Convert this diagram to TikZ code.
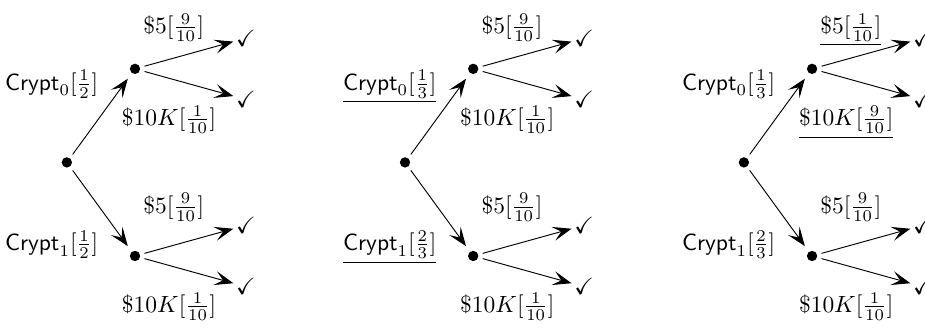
\documentclass[tikz,border=0pt]{standalone}
\usepackage{amsmath,amssymb}
\usepackage{tikz}
\usetikzlibrary{arrows.meta}

\tikzset{
  dot/.style={circle, fill, inner sep=0pt, minimum size=4.4pt, outer sep=2pt},
  leaf/.style={inner sep=1pt},
  lbl/.style={inner sep=1pt},
  branch/.style={-{Stealth[length=8pt, width=6pt, inset=3.5pt]}},
}

\begin{document}
\begin{tikzpicture}
  \useasboundingbox (-1.0,-2.5) rectangle (12.84,2.43);

  %% one tree per panel: offset / crypt labels / payoff labels (upper node)
  \foreach \i/\x/\ca/\cb/\fa/\ka in {
      1/0/{$\mathsf{Crypt}_0[\frac{1}{2}]$}/{$\mathsf{Crypt}_1[\frac{1}{2}]$}/{$\$5[\frac{9}{10}]$}/{$\$10K[\frac{1}{10}]$},
      2/5.06/{\underline{$\mathsf{Crypt}_0[\frac{1}{3}]$}}/{\underline{$\mathsf{Crypt}_1[\frac{2}{3}]$}}/{$\$5[\frac{9}{10}]$}/{$\$10K[\frac{1}{10}]$},
      3/10.13/{$\mathsf{Crypt}_0[\frac{1}{3}]$}/{$\mathsf{Crypt}_1[\frac{2}{3}]$}/{\underline{$\$5[\frac{1}{10}]$}}/{\underline{$\$10K[\frac{9}{10}]$}}} {
    \begin{scope}[xshift=\x cm]
      \node[dot] (r\i) at (0,0) {};
      \node[dot] (u\i) at (1.02,1.4) {};
      \node[dot] (d\i) at (1.02,-1.4) {};

      %% leaves
      \node[leaf] (uu\i) at (2.68,1.86) {$\checkmark$};
      \node[leaf] (ud\i) at (2.68,0.94) {$\checkmark$};
      \node[leaf] (du\i) at (2.68,-0.94) {$\checkmark$};
      \node[leaf] (dd\i) at (2.68,-1.86) {$\checkmark$};

      \draw[branch, shorten >=1pt] (r\i) -- (u\i);
      \draw[branch, shorten >=1pt] (r\i) -- (d\i);
      \foreach \m in {u,d} {
        \draw[branch] (\m\i) -- (\m u\i);
        \draw[branch] (\m\i) -- (\m d\i);
      }

      %% branch labels
      \node[lbl, anchor=base east] (lu\i) at (0.51,1.08) {\ca};
      \node[lbl, anchor=base east] (ld\i) at (0.51,-1.32) {\cb};
      \node[lbl, anchor=base] (pu\i) at (1.60,1.93) {\fa};
      \node[lbl, anchor=base] (qu\i) at (1.53,0.55) {\ka};
      \node[lbl, anchor=base] (pd\i) at (1.60,-0.76) {$\$5[\frac{9}{10}]$};
      \node[lbl, anchor=base] (qd\i) at (1.53,-2.25) {$\$10K[\frac{1}{10}]$};
    \end{scope}
  }
\end{tikzpicture}
\end{document}
